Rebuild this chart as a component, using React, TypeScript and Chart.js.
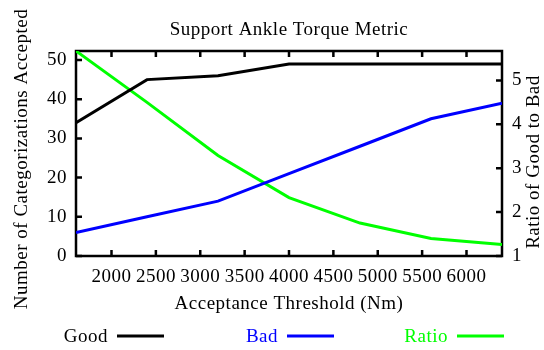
import React, { useEffect, useRef } from "react";
import { Chart, registerables } from "chart.js";

Chart.register(...registerables);

const thresholds = [1600, 2400, 3200, 4000, 4800, 5600, 6400];
const goodCounts = [34, 45, 46, 49, 49, 49, 49];
const badCounts = [6, 10, 14, 21, 28, 35, 39];
const ratioValues = [5.67, 4.5, 3.29, 2.33, 1.75, 1.4, 1.26];

const xTickValues = [2000, 2500, 3000, 3500, 4000, 4500, 5000, 5500, 6000];
const leftTickValues = [0, 10, 20, 30, 40, 50];
const rightTickValues = [1, 2, 3, 4, 5];

const seriesNames = ["Good", "Bad", "Ratio"];
const seriesColors = ["#000000", "#0000ff", "#00ff00"];

const titleText = "Support Ankle Torque Metric";
const xTitle = "Acceptance Threshold (Nm)";
const leftTitle = "Number of Categorizations Accepted";
const rightTitle = "Ratio of Good to Bad";

const FAMILY = "'Liberation Serif', 'Times New Roman', serif";
const FSIZE = 19;
const SPACING = "0.5px";
const FONT = { family: FAMILY, size: FSIZE, weight: "normal" as const, lineHeight: 1.2 };

const setSpacing = (ctx: any) => {
  try {
    ctx.letterSpacing = SPACING;
  } catch (e) {
    /* ignore */
  }
};

const framePlugin = {
  id: "frame",
  beforeInit(chart: any) {
    setSpacing(chart.ctx);
  },
  beforeLayout(chart: any) {
    setSpacing(chart.ctx);
  },
  beforeDraw(chart: any) {
    setSpacing(chart.ctx);
  },
  beforeDatasetsDraw(chart: any) {
    const { ctx, chartArea, scales } = chart;
    const { left, right, top, bottom } = chartArea;
    const tl = 6;
    ctx.save();
    ctx.strokeStyle = "#000";
    ctx.lineWidth = 2.5;
    ctx.beginPath();
    scales.x.ticks.forEach((t: any) => {
      const px = scales.x.getPixelForValue(t.value);
      ctx.moveTo(px, bottom);
      ctx.lineTo(px, bottom - tl);
      ctx.moveTo(px, top);
      ctx.lineTo(px, top + tl);
    });
    scales.y.ticks.forEach((t: any) => {
      const py = scales.y.getPixelForValue(t.value);
      ctx.moveTo(left, py);
      ctx.lineTo(left + tl, py);
    });
    scales.y1.ticks.forEach((t: any) => {
      const py = scales.y1.getPixelForValue(t.value);
      ctx.moveTo(right, py);
      ctx.lineTo(right - tl, py);
    });
    ctx.stroke();
    ctx.strokeRect(left, top, right - left, bottom - top);
    ctx.restore();
  },
  afterDraw(chart: any) {
    const { ctx, chartArea } = chart;
    ctx.save();
    setSpacing(ctx);
    ctx.font = `${FSIZE}px ${FAMILY}`;
    ctx.fillStyle = "#000";
    ctx.textAlign = "center";
    ctx.textBaseline = "alphabetic";
    // left axis title
    ctx.save();
    ctx.translate(26.5, 159);
    ctx.rotate(-Math.PI / 2);
    ctx.fillText(leftTitle, 0, 0);
    ctx.restore();
    // right axis title
    ctx.save();
    ctx.translate(538.5, 162);
    ctx.rotate(-Math.PI / 2);
    ctx.fillText(rightTitle, 0, 0);
    ctx.restore();
    // legend
    ctx.textBaseline = "middle";
    const y = 336;
    const lineLen = 47;
    const n = chart.data.datasets.length;
    chart.data.datasets.forEach((ds: any, i: number) => {
      const lineEnd = chartArea.right + 2 - (n - 1 - i) * 170;
      const lineStart = lineEnd - lineLen;
      ctx.strokeStyle = ds.borderColor;
      ctx.lineWidth = 3;
      ctx.beginPath();
      ctx.moveTo(lineStart, y);
      ctx.lineTo(lineEnd, y);
      ctx.stroke();
      ctx.fillStyle = ds.borderColor;
      ctx.textAlign = "right";
      ctx.fillText(ds.label, lineStart - 9, y + 1);
    });
    ctx.restore();
  },
};

export default function App() {
  const canvasRef = useRef<HTMLCanvasElement | null>(null);

  useEffect(() => {
    if (!canvasRef.current) return;
    const mk = (vals: number[]) => thresholds.map((x, i) => ({ x, y: vals[i] }));
    const ds = (i: number, vals: number[], axis: string) => ({
      label: seriesNames[i],
      data: mk(vals),
      borderColor: seriesColors[i],
      backgroundColor: seriesColors[i],
      borderWidth: 3,
      pointRadius: 0,
      tension: 0,
      yAxisID: axis,
    });
    const chart = new Chart(canvasRef.current, {
      type: "line",
      data: {
        datasets: [ds(0, goodCounts, "y"), ds(1, badCounts, "y"), ds(2, ratioValues, "y1")],
      },
      options: {
        animation: false,
        responsive: false,
        maintainAspectRatio: false,
        layout: { padding: { top: 0, left: 0, right: 0, bottom: 35 } },
        plugins: {
          legend: { display: false },
          tooltip: { enabled: false },
          title: {
            display: true,
            text: titleText,
            fullSize: false,
            color: "#000",
            font: FONT,
            padding: { top: 18.6, bottom: 9.6 },
          },
        },
        scales: {
          x: {
            type: "linear",
            position: "bottom",
            min: 1600,
            max: 6400,
            afterBuildTicks: (s: any) => {
              s.ticks = xTickValues.map((v) => ({ value: v }));
            },
            afterFit: (s: any) => {
              s.height = 59;
            },
            ticks: {
              padding: 9.6,
              color: "#000",
              font: FONT,
              maxRotation: 0,
              autoSkip: false,
              callback: (v: any) => String(v),
            },
            grid: { display: false, drawTicks: false },
            border: { display: false },
            title: { display: true, text: xTitle, color: "#000", font: FONT, padding: 0 },
          },
          y: {
            type: "linear",
            position: "left",
            min: 0,
            max: 52.3,
            afterBuildTicks: (s: any) => {
              s.ticks = leftTickValues.map((v) => ({ value: v }));
            },
            afterFit: (s: any) => {
              s.width = 76;
            },
            ticks: {
              padding: 9,
              color: "#000",
              font: FONT,
              callback: (v: any) => String(v),
            },
            grid: { display: false, drawTicks: false },
            border: { display: false },
          },
          y1: {
            type: "linear",
            position: "right",
            min: 1,
            max: 5.67,
            afterBuildTicks: (s: any) => {
              s.ticks = rightTickValues.map((v) => ({ value: v }));
            },
            afterFit: (s: any) => {
              s.width = 42;
            },
            ticks: {
              padding: 10,
              color: "#000",
              font: FONT,
              callback: (v: any) => String(v),
            },
            grid: { display: false, drawTicks: false },
            border: { display: false },
          },
        },
      },
      plugins: [framePlugin],
    });
    return () => chart.destroy();
  }, []);

  return (
    <div style={{ position: "absolute", left: 0, top: 0, width: 544, height: 350, background: "#fff" }}>
      <canvas ref={canvasRef} width={544} height={350} />
    </div>
  );
}
